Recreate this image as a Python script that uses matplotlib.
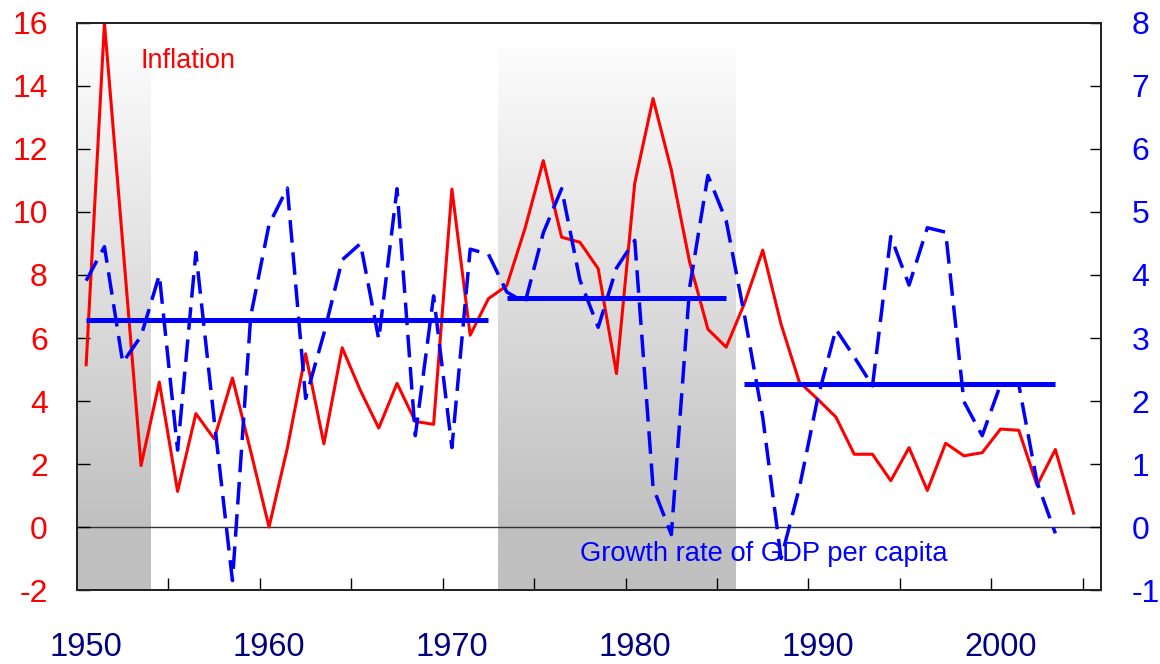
import matplotlib
matplotlib.use('Agg')
import matplotlib.pyplot as plt
import numpy as np

plt.rcParams['font.family'] = ['Liberation Sans', 'DejaVu Sans']
plt.rcParams['axes.unicode_minus'] = False

# annual data, plotted at mid-year
years_infl = list(range(1950, 2005))
inflation = [5.15, 16.0, 9.0, 1.95, 4.6, 1.13, 3.6, 2.8, 4.73, 2.4,
             0.0, 2.5, 5.5, 2.64, 5.69, 4.33, 3.14, 4.56, 3.35, 3.26,
             10.73, 6.09, 7.25, 7.66, 9.48, 11.63, 9.2, 9.04, 8.2, 4.87,
             10.92, 13.6, 11.33, 8.41, 6.28, 5.71, 7.1, 8.79, 6.44, 4.6,
             4.06, 3.49, 2.31, 2.31, 1.47, 2.52, 1.16, 2.66, 2.26, 2.36,
             3.11, 3.07, 1.32, 2.46, 0.44]

years_growth = list(range(1950, 2004))
growth = [3.91, 4.45, 2.61, 3.03, 4.0, 1.22, 4.36, 1.7, -0.85, 3.35,
          4.8, 5.38, 2.04, 3.07, 4.24, 4.5, 2.98, 5.37, 1.45, 3.67,
          1.26, 4.41, 4.33, 3.73, 3.56, 4.67, 5.37, 3.92, 3.17, 4.11,
          4.55, 0.63, -0.12, 3.8, 5.58, 4.86, 3.36, 1.74, -0.5, 0.62,
          2.04, 3.14, 2.7, 2.24, 4.61, 3.84, 4.75, 4.68, 1.99, 1.45,
          2.26, 2.26, 0.71, -0.1]

# period averages of growth
period_start = [1950, 1973, 1986]
period_end = [1972, 1985, 2003]
period_mean = [3.28, 3.63, 2.27]

# shaded periods
shade_start = [1950, 1973]
shade_end = [1954, 1986]

x_labels = [1950, 1960, 1970, 1980, 1990, 2000]

fig = plt.figure(figsize=(11.6, 6.64), dpi=100)
ax = fig.add_axes([0.0664, 0.1114, 0.8828, 0.854])
ax2 = ax.twinx()

# gradient shading: light at top, grey at zero and below
gy = np.linspace(-2, 15.2, 300)
shade = np.where(gy <= 0, 192, 192 + (252 - 192) * gy / 15.2) / 255.0
img = np.repeat(shade[:, None], 2, axis=1)
img = np.dstack([img, img, img])
for s, e in zip(shade_start, shade_end):
    ax.imshow(img, extent=[s, e, -2, 15.2], origin='lower', aspect='auto',
              zorder=0, interpolation='bilinear')

ax.axhline(0, color='#333333', lw=1.0, zorder=1)

ax.plot(np.array(years_infl) + 0.5, inflation, color='#ff0000', lw=2.2, zorder=3)
ax2.plot(np.array(years_growth) + 0.5, growth, color='#0000ff', lw=2.5,
         dashes=(6.5, 2.8))
for s, e, m in zip(period_start, period_end, period_mean):
    ax2.plot([s + 0.5, e + 0.5], [m, m], color='#0000ff', lw=3.6,
             solid_capstyle='butt')

ax.set_xlim(1950, 2006)
ax.set_ylim(-2, 16)
ax2.set_ylim(-1, 8)

ax.set_yticks(range(-2, 17, 2))
ax.tick_params(axis='y', direction='in', length=9, width=1, labelsize=23,
               labelcolor='#ff0000', pad=21)
ax2.set_yticks(range(-1, 9))
ax2.tick_params(axis='y', direction='in', length=8, width=1, labelsize=23,
                labelcolor='#0000ff', pad=22)

ax.set_xticks([y + 0.5 for y in x_labels])
ax.set_xticklabels([str(y) for y in x_labels])
ax.set_xticks(range(1955, 2006, 5), minor=True)
ax.tick_params(axis='x', which='major', length=0, pad=30, labelsize=23.5,
               labelcolor='#000080')
ax.tick_params(axis='x', which='minor', direction='in', length=9, width=1)

for a in (ax, ax2):
    for sp in a.spines.values():
        sp.set_linewidth(1.3)
        sp.set_color('#222222')

ax.text(1953.47, 14.78, 'Inflation', color='#ff0000', fontsize=19.5,
        ha='left', va='center')
ax.text(1977.48, -0.87, 'Growth rate of GDP per capita', color='#0000ff',
        fontsize=19.7, ha='left', va='center')

fig.savefig('out.png', dpi=100)
